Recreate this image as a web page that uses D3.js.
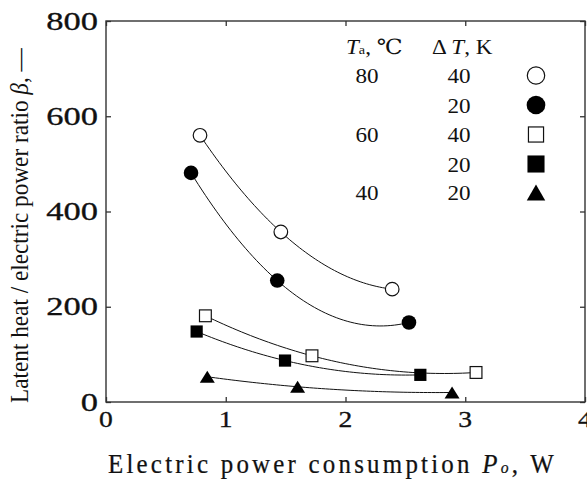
<!DOCTYPE html>
<html><head><meta charset="utf-8">
<script src="https://cdn.jsdelivr.net/npm/d3@7"></script>
<style>body{margin:0;background:#fff}svg{display:block}
text{font-family:"Liberation Serif","DejaVu Serif","Times New Roman",serif}</style>
</head><body>
<script>
// ---- data ----
const xTicks = [0, 1, 2, 3, 4];
const yTicks = [0, 200, 400, 600, 800];
const taLabels = ["80", "", "60", "", "40"];
const dtLabels = ["40", "20", "40", "20", "20"];
const markerKinds = ["circleOpen", "circleFilled", "squareOpen", "squareFilled", "triangle"];
const s1x = [0.785, 1.46, 2.39], s1y = [560, 357, 237];
const s2x = [0.71, 1.43, 2.53], s2y = [481, 255, 167];
const s3x = [0.83, 1.72, 3.09], s3y = [181, 97, 62];
const s4x = [0.757, 1.495, 2.625], s4y = [148, 87, 57];
const s5x = [0.846, 1.6, 2.89], s5y = [53, 32, 20];
const seriesX = [s1x, s2x, s3x, s4x, s5x];
const seriesY = [s1y, s2y, s3y, s4y, s5y];

const W = 587, H = 480;
const L = 106, R = 585, T = 21, B = 402;
const svg = d3.select("body").append("svg").attr("width", W).attr("height", H);
const x = d3.scaleLinear().domain([0, 4]).range([L, R]);
const y = d3.scaleLinear().domain([0, 800]).range([B, T]);

// ticks (inward, all sides)
const tk = 5;
svg.append("g").attr("transform", `translate(0,${B})`)
  .call(d3.axisBottom(x).tickValues(xTicks).tickSizeInner(-tk).tickSizeOuter(0).tickFormat(""));
svg.append("g").attr("transform", `translate(0,${T})`)
  .call(d3.axisTop(x).tickValues(xTicks).tickSizeInner(-tk).tickSizeOuter(0).tickFormat(""));
svg.append("g").attr("transform", `translate(${L},0)`)
  .call(d3.axisLeft(y).tickValues(yTicks).tickSizeInner(-tk).tickSizeOuter(0).tickFormat(""));
svg.append("g").attr("transform", `translate(${R},0)`)
  .call(d3.axisRight(y).tickValues(yTicks).tickSizeInner(-tk).tickSizeOuter(0).tickFormat(""));
svg.selectAll(".domain").remove();
svg.selectAll(".tick line").attr("stroke", "#333").attr("stroke-width", 1.3);
svg.append("rect").attr("x", L).attr("y", T).attr("width", R - L).attr("height", B - T)
  .attr("fill", "none").attr("stroke", "#333").attr("stroke-width", 1.4);

// tick labels
function stretched(parent, txt, tx, ty, sx, anchor, size) {
  return parent.append("text").attr("transform", `translate(${tx},${ty}) scale(${sx},1)`)
    .attr("text-anchor", anchor).attr("font-size", size)
    .attr("fill", "#111").text(txt);
}
xTicks.forEach(v => stretched(svg, d3.format("d")(v), x(v), 427, 1.2, "middle", 23)
  .attr("stroke", "#111").attr("stroke-width", 0.3));
yTicks.forEach(v => stretched(svg, d3.format("d")(v), 98, y(v) + 8.5, 1.38, "end", 25)
  .attr("stroke", "#111").attr("stroke-width", 0.3));

// curves: quadratic through the three measured points of each series
function quad(xs, ys) {
  return t => {
    let s = 0;
    for (let i = 0; i < 3; i++) {
      let p = ys[i];
      for (let j = 0; j < 3; j++) if (j !== i) p *= (t - xs[j]) / (xs[i] - xs[j]);
      s += p;
    }
    return s;
  };
}
const line = d3.line().x(d => x(d[0])).y(d => y(d[1]));
seriesX.forEach((xs, k) => {
  const f = quad(xs, seriesY[k]);
  const pts = d3.range(0, 61).map(i => { const t = xs[0] + (xs[2] - xs[0]) * i / 60; return [t, f(t)]; });
  svg.append("path").attr("d", line(pts)).attr("fill", "none").attr("stroke", "#111").attr("stroke-width", 1);
});

// markers
function marker(g, kind, cx, cy, big) {
  const s = big ? 1.28 : 1;
  if (kind === "circleOpen") g.append("circle").attr("cx", cx).attr("cy", cy).attr("r", 6.8 * s)
    .attr("fill", "#fff").attr("stroke", "#111").attr("stroke-width", 1.2);
  else if (kind === "circleFilled") g.append("circle").attr("cx", cx).attr("cy", cy).attr("r", 7.3 * s).attr("fill", "#000");
  else if (kind === "squareOpen") { const a = 11.8 * s; g.append("rect").attr("x", cx - a / 2).attr("y", cy - a / 2)
    .attr("width", a).attr("height", a).attr("fill", "#fff").attr("stroke", "#111").attr("stroke-width", 1.2); }
  else if (kind === "squareFilled") { const a = 12.2 * (big ? 1.4 : 1); g.append("rect").attr("x", cx - a / 2).attr("y", cy - a / 2)
    .attr("width", a).attr("height", a).attr("fill", "#000"); }
  else { const w = 15 * (big ? 1.23 : 1), h = 12 * (big ? 1.35 : 1);
    g.append("path").attr("d", `M${cx},${cy - h / 2}L${cx + w / 2},${cy + h / 2}L${cx - w / 2},${cy + h / 2}Z`).attr("fill", "#000"); }
}
const mg = svg.append("g");
seriesX.forEach((xs, k) => xs.forEach((v, i) => marker(mg, markerKinds[k], x(v), y(seriesY[k][i]), false)));

// legend
const lg = svg.append("g").attr("font-size", 21).attr("fill", "#111");
const h1 = lg.append("text").attr("transform", "translate(346,54) scale(1.1,1)");
h1.append("tspan").attr("font-style", "italic").text("T");
h1.append("tspan").attr("font-size", 13).text("a");
h1.append("tspan").text(", \u2103");
const h2 = lg.append("text").attr("transform", "translate(432,54) scale(1.1,1)");
h2.append("tspan").text("\u0394 ");
h2.append("tspan").attr("font-style", "italic").text("T");
h2.append("tspan").text(", K");
const rowBase = [83, 112.5, 142, 171.5, 200];
taLabels.forEach((t, i) => { if (t) stretched(lg, t, 367, rowBase[i], 1.1, "middle", 21); });
dtLabels.forEach((t, i) => stretched(lg, t, 459, rowBase[i], 1.1, "middle", 21));
markerKinds.forEach((k, i) => marker(lg, k, 536, rowBase[i] - 7.5, true));

// axis titles
const xt = svg.append("text").attr("font-size", 27)
  .attr("letter-spacing", 3.5).attr("fill", "#111").attr("stroke", "#111").attr("stroke-width", 0.25);
xt.append("tspan").text("Electric power consumption ");
xt.append("tspan").attr("font-style", "italic").text("P");
xt.append("tspan").attr("font-style", "italic").attr("font-size", 17).text("o");
xt.append("tspan").text(", W");
{ const w = xt.node().getBBox().width; xt.attr("transform", `translate(108,473) scale(${449 / w},1)`); }

const yt = svg.append("text").attr("font-size", 19).attr("fill", "#111");
yt.append("tspan").text("Latent heat / electric power ratio ");
yt.append("tspan").attr("font-style", "italic").text("\u03B2");
yt.append("tspan").text(", \u2014");
{ const w = yt.node().getComputedTextLength(); yt.attr("transform", `translate(28,403) scale(1.3,1) rotate(-90) scale(${355 / w},1)`); }
</script>
</body></html>
